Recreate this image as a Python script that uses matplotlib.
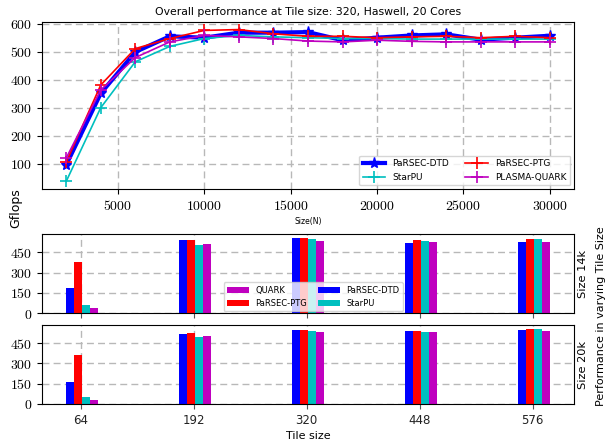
import numpy as np
import matplotlib
matplotlib.use("Agg")
import matplotlib.pyplot as plt
from matplotlib.ticker import FuncFormatter

plt.rcParams["mathtext.fontset"] = "cm"
plt.rcParams["font.family"] = "DejaVu Sans"

# ---------------------------------------------------------------------------
# Data
# ---------------------------------------------------------------------------
SIZES = [2000, 4000, 6000, 8000, 10000, 12000, 14000, 16000,
         18000, 20000, 22000, 24000, 26000, 28000, 30000]
DTD = [96, 351, 499, 555, 550, 568, 568, 570, 541, 550, 558, 562, 543, 550, 557]
PTG = [105, 381, 511, 547, 576, 579, 564, 555, 555, 550, 553, 555, 550, 555, 550]
STARPU = [37, 300, 464, 519, 547, 558, 553, 550, 547, 547, 545, 545, 545, 545, 545]
QUARK = [120, 363, 479, 535, 558, 553, 547, 538, 535, 541, 537, 535, 535, 535, 535]

TILES = [64, 192, 320, 448, 576]
# size 14k
DTD_14K = [189, 543, 558, 521, 529]
PTG_14K = [381, 543, 558, 543, 551]
STARPU_14K = [57, 507, 551, 536, 551]
QUARK_14K = [34, 514, 536, 529, 529]
# size 20k
DTD_20K = [165, 519, 548, 541, 548]
PTG_20K = [364, 526, 548, 541, 556]
STARPU_20K = [54, 497, 541, 534, 556]
QUARK_20K = [32, 504, 534, 534, 541]

GRID = dict(linestyle="--", linewidth=1.0, color="#b8b8b8", dashes=(5, 3))


def math_fmt(v, _pos):
    return f"${v:g}$"


fig = plt.figure(figsize=(6.07, 4.44), dpi=100)

# ---------------------------------------------------------------------------
# Line chart: performance vs matrix size
# ---------------------------------------------------------------------------
ax = fig.add_axes([0.0692, 0.5743, 0.8764, 0.3762])
ax.plot(SIZES, DTD, color="b", lw=3, marker="*", ms=8, label="PaRSEC-DTD")
ax.plot(SIZES, STARPU, color="c", lw=1.2, marker="+", ms=8, mew=1.2, label="StarPU")
ax.plot(SIZES, PTG, color="r", lw=1.2, marker="+", ms=8, mew=1.2, label="PaRSEC-PTG")
ax.plot(SIZES, QUARK, color="m", lw=1.2, marker="+", ms=8, mew=1.2, label="PLASMA-QUARK")
ax.set_yticks([100, 200, 300, 400, 500, 600])
ax.set_xticks([5000, 10000, 15000, 20000, 25000, 30000])
ax.xaxis.set_major_formatter(FuncFormatter(math_fmt))
ax.yaxis.set_major_formatter(FuncFormatter(math_fmt))
ax.tick_params(labelsize=10)
ax.grid(True, **GRID)
ax.set_title("Overall performance at Tile size: 320, Haswell, 20 Cores",
             fontsize=7.8, pad=5)
ax.set_xlabel("Size(N)", fontsize=5.5, labelpad=3)
ax.legend(loc="lower right", ncol=2, fontsize=6.5, handlelength=2.5,
          columnspacing=1.8, borderaxespad=0.4, framealpha=0.8)

# ---------------------------------------------------------------------------
# Bar charts: performance vs tile size
# ---------------------------------------------------------------------------
WIDTH = 9
OFFSETS = [(i - 1.5) * WIDTH + 1.5 for i in range(4)]
tiles = np.array(TILES)


def bar_panel(rect, dtd, ptg, starpu, quark, side_label):
    bx = fig.add_axes(rect)
    b_dtd = bx.bar(tiles + OFFSETS[0], dtd, WIDTH, color="b", label="PaRSEC-DTD")
    b_ptg = bx.bar(tiles + OFFSETS[1], ptg, WIDTH, color="r", label="PaRSEC-PTG")
    b_star = bx.bar(tiles + OFFSETS[2], starpu, WIDTH, color="c", label="StarPU")
    b_quark = bx.bar(tiles + OFFSETS[3], quark, WIDTH, color="m", label="QUARK")
    bx.set_xticks(TILES)
    bx.set_yticks([0, 150, 300, 450])
    bx.yaxis.set_major_formatter(FuncFormatter(math_fmt))
    bx.tick_params(axis="y", labelsize=10)
    bx.tick_params(axis="x", labelsize=8.5, colors="#555555", labelcolor="#222222")
    bx.grid(True, **GRID)
    bx.set_axisbelow(True)
    bx.yaxis.set_label_position("right")
    bx.set_ylabel(side_label, fontsize=8.2, labelpad=3)
    return bx, [b_quark, b_ptg, b_dtd, b_star]


bx1, handles = bar_panel([0.0692, 0.2950, 0.8764, 0.1780],
                         DTD_14K, PTG_14K, STARPU_14K, QUARK_14K, "Size 14k")
bx1.tick_params(axis="x", labelbottom=False)
bx1.legend(handles, [h.get_label() for h in handles], loc="lower center",
           bbox_to_anchor=(0.51, -0.03), ncol=2, fontsize=6, handlelength=2.6,
           columnspacing=1.3, framealpha=0.8)

bx2, _ = bar_panel([0.0692, 0.0901, 0.8764, 0.1780],
                   DTD_20K, PTG_20K, STARPU_20K, QUARK_20K, "Size 20k")
bx2.set_xlabel("Tile size", fontsize=8, labelpad=3)

fig.text(16 / 607, 1 - 208 / 444, "Gflops", rotation=90, fontsize=9,
         ha="center", va="center")
fig.text(601 / 607, 1 - 316 / 444, "Performance in varying Tile Size",
         rotation=90, fontsize=8, ha="center", va="center")

fig.savefig("out.png", dpi=100)
